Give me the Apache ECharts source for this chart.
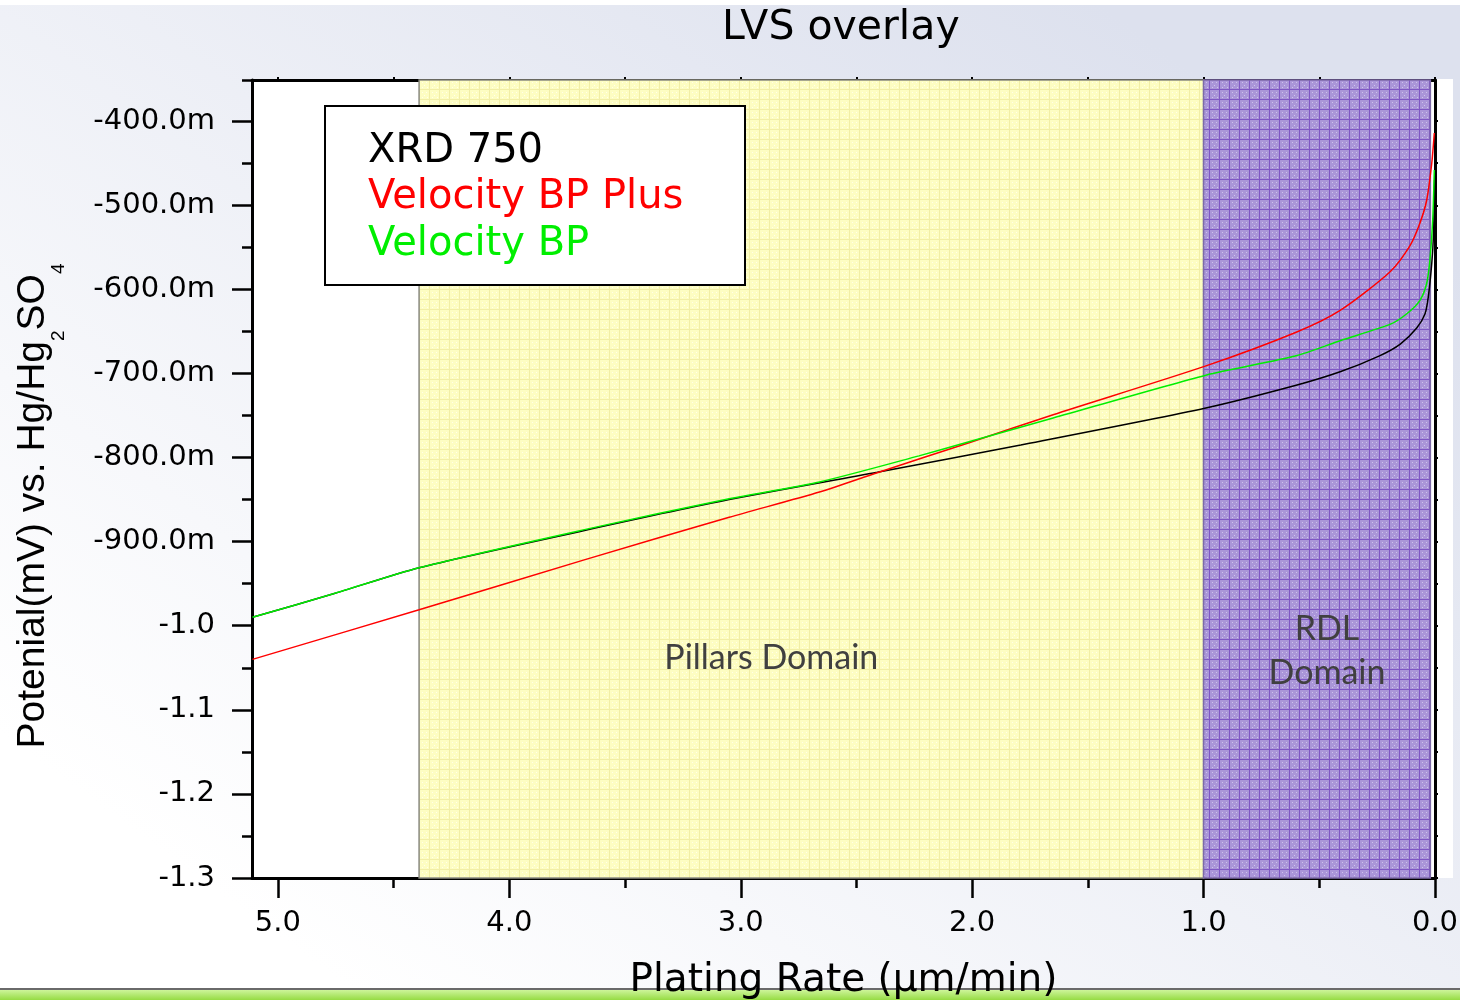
<!DOCTYPE html>
<html>
<head>
<meta charset="utf-8">
<script src="https://cdn.jsdelivr.net/npm/echarts@6.0.0/dist/echarts.min.js"></script>
<style>
html,body{margin:0;padding:0;background:#fff;}
#chart{width:1460px;height:1000px;}
</style>
</head>
<body>
<div id="chart"></div>
<script>
// ---- data (x: plating rate µm/min, y: potential V) ----
const SERIES_NAMES = ['XRD 750', 'Velocity BP Plus', 'Velocity BP'];
const SERIES_COLORS = ['#000000', '#ff0000', '#00ee00'];

const xrd750 = [
  [5.11,-0.990],[4.76,-0.962],[4.39,-0.931],[3.68,-0.887],[3.05,-0.850],
  [2.41,-0.8175],[1.79,-0.785],[0.99,-0.741],[0.60,-0.714],[0.41,-0.698],
  [0.24,-0.679],[0.15,-0.665],[0.079,-0.646],[0.043,-0.629],[0.029,-0.609],
  [0.014,-0.569],[0.007,-0.538],[0.002,-0.47]
];
const velocityBPPlus = [
  [5.11,-1.040],[4.39,-0.981],[3.68,-0.922],[3.05,-0.871],[2.66,-0.841],
  [2.41,-0.818],[2.01,-0.782],[1.65,-0.749],[0.99,-0.691],[0.60,-0.651],
  [0.41,-0.625],[0.194,-0.579],[0.108,-0.548],[0.065,-0.521],[0.036,-0.494],
  [0.014,-0.450],[0.003,-0.414]
];
const velocityBP = [
  [5.11,-0.990],[4.76,-0.962],[4.39,-0.931],[3.68,-0.886],[3.05,-0.849],
  [2.66,-0.829],[2.23,-0.798],[2.01,-0.781],[1.65,-0.753],[0.99,-0.702],
  [0.60,-0.679],[0.41,-0.661],[0.19,-0.641],[0.122,-0.629],[0.065,-0.613],
  [0.036,-0.593],[0.022,-0.565],[0.010,-0.518],[0.003,-0.458]
];

// domains (x ranges)
const PILLARS_DOMAIN = [4.39, 1.0];
const RDL_DOMAIN = [1.0, 0.02];
const DOMAIN_LABELS = ['Pillars Domain', 'RDL\nDomain'];

// axes
const X_MIN = 0, X_MAX = 5.112;
const Y_MIN = -1.3, Y_MAX = -0.351;
const X_MAJOR = [0, 1, 2, 3, 4, 5];
const X_MINOR = [0.5, 1.5, 2.5, 3.5, 4.5];
const X_ALL = [0, 0.5, 1, 1.5, 2, 2.5, 3, 3.5, 4, 4.5, 5];
const Y_MAJOR = [-1.3, -1.2, -1.1, -1.0, -0.9, -0.8, -0.7, -0.6, -0.5, -0.4];
const Y_MINOR = [-1.25, -1.15, -1.05, -0.95, -0.85, -0.75, -0.65, -0.55, -0.45, -0.351];
const Y_ALL = [-1.3,-1.25,-1.2,-1.15,-1.1,-1.05,-1.0,-0.95,-0.9,-0.85,-0.8,-0.75,-0.7,-0.65,-0.6,-0.55,-0.5,-0.45,-0.4];

const TITLE = 'LVS overlay';
const X_NAME = 'Plating Rate (µm/min)';

// ---- patterns ----
function makePattern(base, line, dot) {
  const c = document.createElement('canvas');
  c.width = 10; c.height = 10;
  const g = c.getContext('2d');
  g.fillStyle = base; g.fillRect(0, 0, 10, 10);
  g.fillStyle = dot;
  [[2,2],[6,2],[4,5],[2,7],[7,7]].forEach(p => g.fillRect(p[0], p[1], 1, 1));
  g.fillStyle = line;
  g.fillRect(0, 9, 10, 1);
  g.fillRect(9, 0, 1, 10);
  return c;
}
const yellowPat = makePattern('#fdfdc2', '#f1eea6', '#ffffea');
const purplePat = makePattern('#aa96d8', '#7f57c4', '#cfc3ec');

const chart = echarts.init(document.getElementById('chart'), null, {renderer: 'canvas'});

const labelFont = {fontFamily: 'DejaVu Sans', fontSize: 29, color: '#000'};
const axisBlack = {lineStyle: {color: '#000', width: 3}, onZero: false};

function yFmt(v) {
  const a = Math.abs(v);
  return a < 0.95 ? (v * 1000).toFixed(1) + 'm' : v.toFixed(1);
}

const option = {
  animation: false,
  backgroundColor: {
    type: 'linear', x: 0.25, y: 1, x2: 0.75, y2: 0,
    colorStops: [{offset: 0, color: '#ffffff'}, {offset: 1, color: '#dde1ee'}]
  },
  title: {
    text: TITLE, left: 722, top: 8, padding: 0,
    textStyle: {fontFamily: 'DejaVu Sans', fontSize: 41, fontWeight: 'normal', color: '#000', lineHeight: 41}
  },
  legend: {
    orient: 'vertical', left: 363, top: 129.5, padding: 0, itemGap: 2.5,
    itemWidth: 0, itemHeight: 0, icon: 'none', selectedMode: false,
    textStyle: {fontFamily: 'DejaVu Sans', fontSize: 40, lineHeight: 44},
    data: SERIES_NAMES.map((n, i) => ({name: n, textStyle: {color: SERIES_COLORS[i]}}))
  },
  grid: {left: 252, top: 80, right: 25, bottom: 122, show: true, backgroundColor: '#ffffff', borderWidth: 0,
    outerBoundsMode: 'none', containLabel: false},
  graphic: {
    elements: [
      {type: 'rect', shape: {x: 0, y: 0, width: 1460, height: 5}, style: {fill: '#ffffff'}, z: 0, silent: true},
      {type: 'rect', shape: {x: 1437, y: 79, width: 16, height: 799}, style: {fill: '#ffffff'}, z: 0, silent: true},
      {type: 'rect', shape: {x: 0, y: 988, width: 1460, height: 2}, style: {fill: '#6a6a6a'}, z: 0, silent: true},
      {type: 'rect', shape: {x: 0, y: 990, width: 1460, height: 10},
        style: {fill: {type: 'linear', x: 0, y: 0, x2: 0, y2: 1, colorStops: [{offset: 0, color: '#cdf59a'}, {offset: 1, color: '#96dc44'}]}},
        z: 0, silent: true},
      {type: 'rect', shape: {x: 325, y: 106, width: 420, height: 179},
        style: {fill: '#ffffff', stroke: '#000000', lineWidth: 2}, z: 3, silent: true}
    ]
  },
  xAxis: [
    {
      type: 'value', position: 'bottom', min: X_MIN, max: X_MAX, inverse: true,
      axisLine: axisBlack,
      axisTick: {show: true, customValues: X_MAJOR, length: 20, lineStyle: {color: '#000', width: 2.5}},
      axisLabel: Object.assign({customValues: X_MAJOR, margin: 31, formatter: v => v.toFixed(1)}, labelFont),
      splitLine: {show: false},
      name: X_NAME, nameLocation: 'middle', nameGap: 83,
      nameTextStyle: {fontFamily: 'DejaVu Sans', fontSize: 39, lineHeight: 39, color: '#000'}
    },
    {
      type: 'value', position: 'bottom', min: X_MIN, max: X_MAX, inverse: true,
      axisLine: {show: false, onZero: false},
      axisTick: {show: true, customValues: X_MINOR, length: 10, lineStyle: {color: '#000', width: 2.5}},
      axisLabel: {show: false}, splitLine: {show: false}
    },
    {
      type: 'value', position: 'top', min: X_MIN, max: X_MAX, inverse: true,
      axisLine: axisBlack,
      axisTick: {show: true, customValues: X_ALL, length: 3, lineStyle: {color: '#000', width: 2}},
      axisLabel: {show: false}, splitLine: {show: false}
    }
  ],
  yAxis: [
    {
      type: 'value', position: 'left', min: Y_MIN, max: Y_MAX,
      axisLine: axisBlack,
      axisTick: {show: true, customValues: Y_MAJOR, length: 20, lineStyle: {color: '#000', width: 2.5}},
      axisLabel: Object.assign({customValues: Y_MAJOR, margin: 37, formatter: yFmt}, labelFont),
      splitLine: {show: false},
      name: '{a|Potenial(mV) vs. Hg/Hg}{s|2}{a|SO}{s|4}',
      nameLocation: 'middle', nameRotate: 90, nameGap: 199,
      nameTextStyle: {
        padding: [0, 54, 0, 0],
        rich: {
          a: {fontFamily: 'Liberation Sans', fontSize: 39, lineHeight: 39, color: '#000', verticalAlign: 'top'},
          s: {fontFamily: 'Liberation Sans', fontSize: 19, lineHeight: 19, color: '#000', verticalAlign: 'top', padding: [35, 0, 0, 0]}
        }
      }
    },
    {
      type: 'value', position: 'left', min: Y_MIN, max: Y_MAX,
      axisLine: {show: false, onZero: false},
      axisTick: {show: true, customValues: Y_MINOR, length: 10, lineStyle: {color: '#000', width: 2.5}},
      axisLabel: {show: false}, splitLine: {show: false}
    },
    {
      type: 'value', position: 'right', min: Y_MIN, max: Y_MAX,
      axisLine: axisBlack,
      axisTick: {show: true, customValues: Y_ALL, length: 3, lineStyle: {color: '#000', width: 2}},
      axisLabel: {show: false}, splitLine: {show: false}
    }
  ],
  series: [
    {
      name: SERIES_NAMES[0], type: 'line', xAxisIndex: 0, yAxisIndex: 0,
      data: xrd750, symbol: 'none', smooth: 0.25,
      lineStyle: {color: SERIES_COLORS[0], width: 1.5}, itemStyle: {color: SERIES_COLORS[0]},
      emphasis: {disabled: true}, z: 5,
      markArea: {
        silent: true,
        data: [
          [{xAxis: PILLARS_DOMAIN[0],
            itemStyle: {color: {image: yellowPat, repeat: 'repeat'}, borderColor: '#8a8a80', borderWidth: 1.5},
            label: {show: true, position: 'inside', offset: [-40, 179], formatter: DOMAIN_LABELS[0],
              fontFamily: 'Lato', fontSize: 34, color: '#404040'}},
           {xAxis: PILLARS_DOMAIN[1]}],
          [{xAxis: RDL_DOMAIN[0],
            itemStyle: {color: {image: purplePat, repeat: 'repeat'}, borderColor: '#7d6aa8', borderWidth: 1.5},
            label: {show: true, position: 'inside', offset: [10, 172], formatter: DOMAIN_LABELS[1],
              fontFamily: 'Lato', fontSize: 34, lineHeight: 44, color: '#404040', align: 'center'}},
           {xAxis: RDL_DOMAIN[1]}]
        ]
      }
    },
    {
      name: SERIES_NAMES[1], type: 'line', xAxisIndex: 0, yAxisIndex: 0,
      data: velocityBPPlus, symbol: 'none', smooth: 0.25,
      lineStyle: {color: SERIES_COLORS[1], width: 1.5}, itemStyle: {color: SERIES_COLORS[1]},
      emphasis: {disabled: true}, z: 6
    },
    {
      name: SERIES_NAMES[2], type: 'line', xAxisIndex: 0, yAxisIndex: 0,
      data: velocityBP, symbol: 'none', smooth: 0.25,
      lineStyle: {color: SERIES_COLORS[2], width: 1.5}, itemStyle: {color: SERIES_COLORS[2]},
      emphasis: {disabled: true}, z: 7
    }
  ]
};
chart.setOption(option);
</script>
</body>
</html>
